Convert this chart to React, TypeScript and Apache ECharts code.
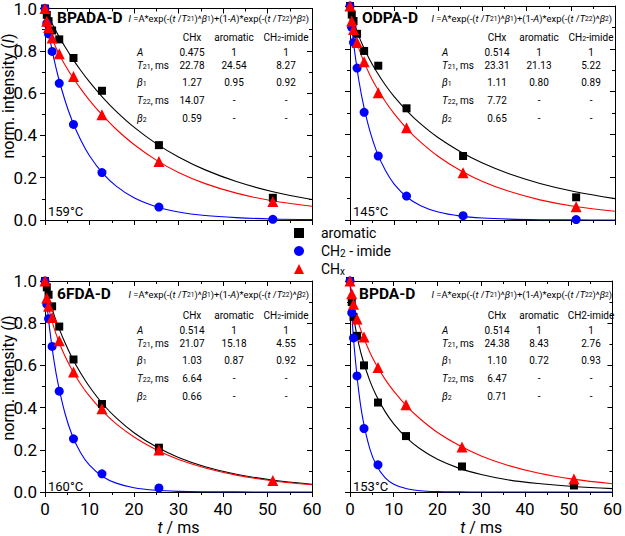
import React, { useEffect, useRef } from 'react';
import * as echarts from 'echarts';

// measured times (ms)
const tData = [0, 0.4, 0.8, 1.6, 3.2, 6.4, 12.8, 25.6, 51.2];
// BPADA-D 159 °C
const bpadaAromatic = [1.0, 0.97, 0.94, 0.896, 0.854, 0.766, 0.611, 0.354, 0.105];
const bpadaImide = [1.0, 0.93, 0.88, 0.797, 0.646, 0.452, 0.224, 0.061, 0.003];
const bpadaCHx = [1.0, 0.94, 0.91, 0.86, 0.786, 0.678, 0.498, 0.277, 0.088];
// ODPA-D 145 °C
const odpaAromatic = [1.0, 0.96, 0.93, 0.87, 0.79, 0.721, 0.522, 0.299, 0.106];
const odpaImide = [1.0, 0.9, 0.83, 0.71, 0.503, 0.299, 0.112, 0.02, 0.002];
const odpaCHx = [1.0, 0.93, 0.89, 0.83, 0.74, 0.595, 0.431, 0.221, 0.062];
// 6FDA-D 160 °C
const fdaAromatic = [1.0, 0.97, 0.935, 0.88, 0.784, 0.628, 0.417, 0.21, null];
const fdaImide = [1.0, 0.89, 0.821, 0.69, 0.478, 0.252, 0.086, 0.019, null];
const fdaCHx = [1.0, 0.92, 0.88, 0.827, 0.717, 0.569, 0.394, 0.199, 0.055];
// BPDA-D 153 °C
const bpdaAromatic = [1.0, 0.9, 0.83, 0.74, 0.6, 0.424, 0.265, 0.121, 0.031];
const bpdaImide = [1.0, 0.85, 0.73, 0.55, 0.301, 0.129, null, null, null];
const bpdaCHx = [1.0, 0.94, 0.89, 0.82, 0.735, 0.59, 0.413, 0.213, 0.062];

// fitted curves, read at these times
const tFit = [0, 0.5, 1, 2, 3, 4.5, 6, 8, 10, 13, 16, 20, 25, 30, 36, 43, 51, 60];
const bpadaAromaticFit = [1, 0.976, 0.953, 0.912, 0.873, 0.819, 0.769, 0.708, 0.653, 0.579, 0.514, 0.439, 0.361, 0.298, 0.237, 0.182, 0.135, 0.097];
const bpadaImideFit = [1, 0.927, 0.867, 0.763, 0.675, 0.565, 0.475, 0.379, 0.304, 0.22, 0.16, 0.105, 0.063, 0.038, 0.021, 0.011, 0.005, 0.002];
const bpadaCHxFit = [1, 0.928, 0.892, 0.837, 0.791, 0.733, 0.682, 0.621, 0.566, 0.493, 0.429, 0.357, 0.283, 0.225, 0.172, 0.127, 0.091, 0.065];
const odpaAromaticFit = [1, 0.951, 0.917, 0.859, 0.811, 0.748, 0.694, 0.631, 0.577, 0.508, 0.449, 0.384, 0.319, 0.266, 0.216, 0.171, 0.132, 0.1];
const odpaImideFit = [1, 0.883, 0.795, 0.653, 0.543, 0.416, 0.322, 0.232, 0.168, 0.105, 0.067, 0.037, 0.018, 0.009, 0.004, 0.0015, 0.0005, 0.0002];
const odpaCHxFit = [1, 0.917, 0.872, 0.802, 0.747, 0.678, 0.62, 0.554, 0.497, 0.424, 0.364, 0.297, 0.231, 0.18, 0.134, 0.094, 0.063, 0.041];
const fdaAromaticFit = [1, 0.95, 0.911, 0.842, 0.784, 0.707, 0.64, 0.564, 0.499, 0.417, 0.351, 0.281, 0.214, 0.164, 0.12, 0.084, 0.057, 0.037];
const fdaImideFit = [1, 0.877, 0.78, 0.625, 0.506, 0.372, 0.275, 0.186, 0.127, 0.072, 0.042, 0.02, 0.008, 0.003, 0.001, 0.0004, 0.0001, 0];
const fdaCHxFit = [1, 0.909, 0.857, 0.78, 0.718, 0.643, 0.582, 0.512, 0.454, 0.382, 0.323, 0.261, 0.2, 0.154, 0.114, 0.08, 0.053, 0.034];
const bpdaAromaticFit = [1, 0.877, 0.806, 0.701, 0.622, 0.529, 0.457, 0.382, 0.323, 0.255, 0.205, 0.155, 0.112, 0.083, 0.058, 0.04, 0.026, 0.016];
const bpdaImideFit = [1, 0.815, 0.678, 0.477, 0.339, 0.207, 0.128, 0.068, 0.037, 0.015, 0.006, 0.002, 0.0005, 0, 0, 0, 0, 0];
const bpdaCHxFit = [1, 0.92, 0.872, 0.797, 0.738, 0.664, 0.603, 0.535, 0.478, 0.406, 0.347, 0.282, 0.22, 0.171, 0.127, 0.09, 0.061, 0.039];

// fit parameter tables (rows: A, T21, beta1, T22, beta2; cols: CHx, aromatic, CH2-imide)
const bpadaTable = [['0.475', '1', '1'], ['22.78', '24.54', '8.27'], ['1.27', '0.95', '0.92'], ['14.07', '-', '-'], ['0.59', '-', '-']];
const odpaTable = [['0.514', '1', '1'], ['23.31', '21.13', '5.22'], ['1.11', '0.80', '0.89'], ['7.72', '-', '-'], ['0.65', '-', '-']];
const fdaTable = [['0.514', '1', '1'], ['21.07', '15.18', '4.55'], ['1.03', '0.87', '0.92'], ['6.64', '-', '-'], ['0.66', '-', '-']];
const bpdaTable = [['0.514', '1', '1'], ['24.38', '8.43', '2.76'], ['1.10', '0.72', '0.93'], ['6.47', '-', '-'], ['0.71', '-', '-']];

const panelNames = ['BPADA-D', 'ODPA-D', '6FDA-D', 'BPDA-D'];
const temps = ['159°C', '145°C', '160°C', '153°C'];
const seriesNames = ['aromatic', 'CH2 - imide', 'CHx'];
const rowLabels = ['{i|A}', '{i|T}{s|21}, ms', '{i|β}{s|1}', '{i|T}{s|22}, ms', '{i|β}{s|2}'];
const formula = '{i|I} =A*exp(-({i|t} /{i|T}{s|21})^{i|β}{s|1})+(1-{i|A})*exp(-({i|t} /{i|T}{s|22})^{i|β}{s|2})';

const FONT = 'Roboto, "Open Sans", sans-serif';
const COLORS = ['#000000', '#0000ff', '#ff0000'];
const SYMBOLS = ['rect', 'circle', 'triangle'];
const SIZES = [8, 9, 11];

const grids = [
  { left: 45, top: 6, width: 267, height: 214 },
  { left: 350, top: 6, width: 265, height: 214 },
  { left: 45, top: 281, width: 267, height: 214 },
  { left: 350, top: 281, width: 265, height: 214 },
];

const dataSets = [
  [bpadaAromatic, bpadaImide, bpadaCHx],
  [odpaAromatic, odpaImide, odpaCHx],
  [fdaAromatic, fdaImide, fdaCHx],
  [bpdaAromatic, bpdaImide, bpdaCHx],
];
const fitSets = [
  [bpadaAromaticFit, bpadaImideFit, bpadaCHxFit],
  [odpaAromaticFit, odpaImideFit, odpaCHxFit],
  [fdaAromaticFit, fdaImideFit, fdaCHxFit],
  [bpdaAromaticFit, bpdaImideFit, bpdaCHxFit],
];
const tables = [bpadaTable, odpaTable, fdaTable, bpdaTable];

function buildOption() {
  const axisLine = { show: true, onZero: false, lineStyle: { color: '#000', width: 1 } };
  const tick = (inside: boolean) => ({ show: true, inside, length: 5, lineStyle: { color: '#000', width: 1 } });
  const minor = { show: true, splitNumber: 2, length: 3, lineStyle: { color: '#000', width: 1 } };
  const xAxis: any[] = [];
  const yAxis: any[] = [];
  grids.forEach((g, i) => {
    const bottomRow = i >= 2;
    const leftCol = i % 2 === 0;
    xAxis.push({
      type: 'value', gridIndex: i, min: 0, max: 60, interval: 10, position: 'bottom',
      axisLine, axisTick: tick(false), minorTick: minor, splitLine: { show: false },
      axisLabel: { show: bottomRow, fontSize: 17, fontFamily: FONT, color: '#000', margin: 8 },
      name: bottomRow ? '{i|t} / ms' : '', nameLocation: 'middle', nameGap: 27,
      nameTextStyle: { fontSize: 16, fontFamily: FONT, color: '#000', rich: { i: { fontStyle: 'italic', fontSize: 16, fontFamily: FONT, color: '#000' } } },
    });
    xAxis.push({
      type: 'value', gridIndex: i, min: 0, max: 60, interval: 10, position: 'top',
      axisLine, axisTick: tick(true), minorTick: minor, splitLine: { show: false },
      axisLabel: { show: false },
    });
    yAxis.push({
      type: 'value', gridIndex: i, min: 0, max: 1, interval: 0.2, position: 'left',
      axisLine, axisTick: tick(false), minorTick: minor, splitLine: { show: false },
      axisLabel: { show: leftCol, fontSize: 17, fontFamily: FONT, color: '#000', margin: 8, formatter: (v: number) => v.toFixed(1) },
    });
    yAxis.push({
      type: 'value', gridIndex: i, min: 0, max: 1, interval: 0.2, position: 'right',
      axisLine, axisTick: tick(true), minorTick: minor, splitLine: { show: false },
      axisLabel: { show: false },
    });
  });

  const series: any[] = [];
  grids.forEach((_, i) => {
    fitSets[i].forEach((vals, k) => {
      series.push({
        type: 'line', name: seriesNames[k] + ' fit', xAxisIndex: 2 * i, yAxisIndex: 2 * i,
        data: tFit.map((t, j) => [t, vals[j]]), showSymbol: false, symbol: 'none',
        smooth: 0.35, lineStyle: { color: COLORS[k], width: 1.1 }, z: 2, silent: true,
      });
    });
    dataSets[i].forEach((vals, k) => {
      series.push({
        type: 'scatter', name: seriesNames[k], xAxisIndex: 2 * i, yAxisIndex: 2 * i,
        data: tData.map((t, j) => (vals[j] == null ? null : [t, vals[j]])).filter((d) => d !== null),
        symbol: SYMBOLS[k], symbolSize: SIZES[k], itemStyle: { color: COLORS[k], opacity: 1 }, z: 3 + k,
      });
    });
  });

  const mkRich = (fs: number) => ({
    i: { fontStyle: 'italic', fontSize: fs, fontFamily: FONT, fill: '#000' },
    s: { fontSize: fs * 0.7, fontFamily: FONT, fill: '#000', verticalAlign: 'bottom', lineHeight: fs * 0.8 },
  });
  const graphic: any[] = [];
  const txt = (x: number, y: number, text: string, extra: any = {}, fs = 10) => ({
    type: 'text', x, y, silent: true,
    style: { text, fontSize: fs, fontFamily: FONT, fill: '#000', align: 'left', verticalAlign: 'middle', rich: mkRich(fs), ...extra },
  });
  grids.forEach((g, i) => {
    const top = i < 2;
    const ty = g.top + (top ? 12 : 13);
    graphic.push(txt(g.left + (i === 3 ? 9 : 12), ty, panelNames[i], { fontWeight: 'bold' }, 15.5));
    graphic.push(txt(g.left + g.width - 3, ty, formula, { align: 'right' }, 9.4));
    const hy = g.top + (top ? 31 : 34);
    const cols = [147, 189, 241];
    const headers = ['CHx', 'aromatic', i === 3 ? 'CH2-imide' : 'CH{s|2}-imide'];
    headers.forEach((h, c) => graphic.push(txt(g.left + cols[c], hy, h, { align: 'center' })));
    const rowOff = [15, 28, 45, 63, 81];
    rowLabels.forEach((r, k) => {
      graphic.push(txt(g.left + 92, hy + rowOff[k], r));
      tables[i][k].forEach((v, c) => graphic.push(txt(g.left + cols[c], hy + rowOff[k], v, { align: 'center' })));
    });
    graphic.push(txt(g.left + 3, g.top + g.height - 9, temps[i], {}, 13));
  });
  const yName = 'norm. intensity ({i|I})';
  [96, 378].forEach((cy) => {
    graphic.push({
      type: 'text', x: 8, y: cy, rotation: Math.PI / 2, silent: true,
      style: {
        text: yName, fontSize: 16, fontFamily: FONT, fill: '#000', align: 'center', verticalAlign: 'middle',
        rich: { i: { fontStyle: 'italic', fontSize: 16, fontFamily: FONT, fill: '#000' } },
      },
    });
  });

  return {
    animation: false,
    backgroundColor: '#ffffff',
    grid: grids.map((g) => ({ ...g, containLabel: false })),
    xAxis,
    yAxis,
    legend: {
      data: seriesNames,
      orient: 'vertical',
      left: 294,
      top: 226,
      padding: 0,
      itemGap: 4,
      itemWidth: 10,
      itemHeight: 10,
      selectedMode: false,
      formatter: (name: string) => (name === 'CH2 - imide' ? 'CH{sub|2} - imide' : name === 'CHx' ? 'CH{sub|x}' : name),
      textStyle: {
        fontSize: 14, fontFamily: FONT, color: '#000', padding: [0, 0, 0, 12],
        rich: { sub: { fontSize: 10, fontFamily: FONT, color: '#000', verticalAlign: 'bottom', lineHeight: 12 } },
      },
    },
    series,
    graphic,
  };
}

export default function App() {
  const ref = useRef<HTMLDivElement>(null);
  useEffect(() => {
    if (!ref.current) return;
    const chart = echarts.init(ref.current, undefined, { renderer: 'svg' });
    chart.setOption(buildOption() as any);
    return () => chart.dispose();
  }, []);
  return <div ref={ref} style={{ position: 'absolute', left: 0, top: 0, width: 625, height: 536, background: '#fff' }} />;
}
